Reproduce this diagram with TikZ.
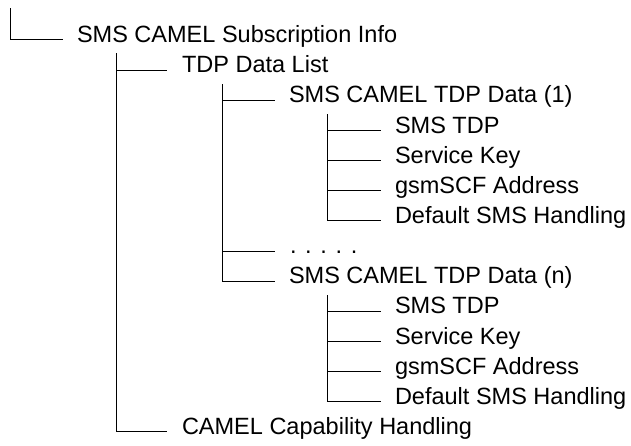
\documentclass[tikz,border=0pt]{standalone}
\usepackage{fontspec}
\setmainfont{Liberation Sans}
\begin{document}
\begin{tikzpicture}[x=1bp,y=-1bp,
  lbl/.style={anchor=mid west,inner sep=0pt,outer sep=0pt,font=\fontsize{23.6}{28}\selectfont},
  conn/.style={line width=1bp,line cap=rect}]
\useasboundingbox (0,0) rectangle (631,446);
\def\rw#1{(40+30.15*#1)}
% text nodes
\node[lbl] (root) at (77,{40+30.15*0}) {SMS CAMEL Subscription Info};
\node[lbl] (tdp)  at (182,{40+30.15*1}) {TDP Data List};
\node[lbl] (d1)   at (289,{40+30.15*2}) {SMS CAMEL TDP Data (1)};
\node[lbl] (a1)   at (395,{40+30.15*3}) {SMS TDP};
\node[lbl] (b1)   at (395,{40+30.15*4}) {Service Key};
\node[lbl] (c1)   at (395,{40+30.15*5}) {gsmSCF Address};
\node[lbl] (e1)   at (395,{40+30.15*6}) {Default SMS Handling};
\node[lbl] (dots) at (290,{40+30.15*7}) {. . . . .};
\node[lbl] (dn)   at (289,{40+30.15*8}) {SMS CAMEL TDP Data (n)};
\node[lbl] (an)   at (395,{40+30.15*9}) {SMS TDP};
\node[lbl] (bn)   at (395,{40+30.15*10}) {Service Key};
\node[lbl] (cn)   at (395,{40+30.15*11}) {gsmSCF Address};
\node[lbl] (en)   at (395,{40+30.15*12}) {Default SMS Handling};
\node[lbl] (cap)  at (182,{40+30.15*13}) {CAMEL Capability Handling};
% vertical tops
\coordinate (v0) at (10,9);
\coordinate (v1) at (116,54);
\coordinate (v2) at (222,85);
\coordinate (v3) at (327,115);
\coordinate (v4) at (327,295);
% connectors
\draw[conn] (v0) |- ([xshift=-15bp]root.mid west);
\draw[conn] (v1) |- ([xshift=-16bp]tdp.mid west);
\draw[conn] (v1) |- ([xshift=-16bp]cap.mid west);
\draw[conn] (v2) |- ([xshift=-15bp]d1.mid west);
\draw[conn] (v2) |- ([xshift=-16bp]dots.mid west);
\draw[conn] (v2) |- ([xshift=-15bp]dn.mid west);
\foreach \n in {a1,b1,c1,e1}{\draw[conn] (v3) |- ([xshift=-15bp]\n.mid west);}
\foreach \n in {an,bn,cn,en}{\draw[conn] (v4) |- ([xshift=-15bp]\n.mid west);}
\end{tikzpicture}
\end{document}
